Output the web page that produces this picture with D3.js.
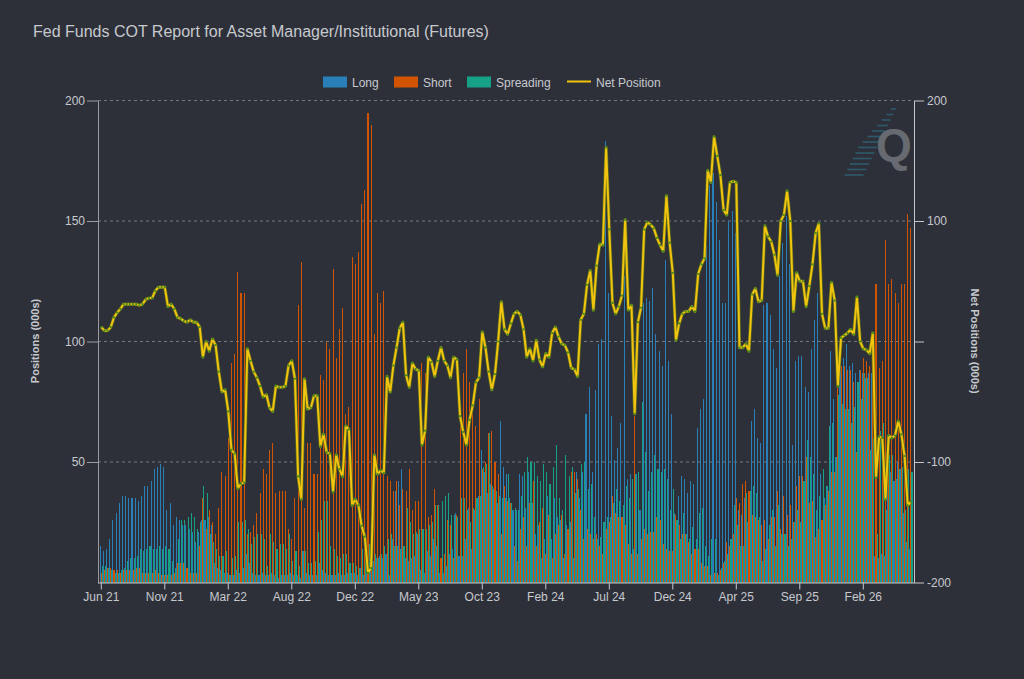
<!DOCTYPE html>
<html>
<head>
<meta charset="utf-8">
<script src="https://cdn.jsdelivr.net/npm/d3@7"></script>
<style>
body { margin: 0; background: #2e3039; }
svg { display: block; }
text { font-family: "Liberation Sans", Arial, sans-serif; }
</style>
</head>
<body>
<svg id="chart" width="1024" height="679"></svg>
<script>
// x axis labels, one every 20 weekly reports
var tickLabels = ["Jun 21", "Nov 21", "Mar 22", "Aug 22", "Dec 22", "May 23", "Oct 23",
	"Feb 24", "Jul 24", "Dec 24", "Apr 25", "Sep 25", "Feb 26"];

var seriesNames = ["Long", "Short", "Spreading"];

// weekly positions, 000s of contracts
var longPos = [
	15,13,14,18,26,29,33,36,36,35,35,35,34,36,40,40,42,47,48,49,
	48,30,33,24,27,26,24,24,22,21,17,21,26,26,27,24,8,6,5,4,4,3,3,
	5,4,6,12,8,4,3,3,4,3,3,4,3,2,3,3,3,4,3,3,2,13,4,3,3,3,8,5,4,3,3,3,4,3,3,4,4,4,3,6,3,
	4,6,9,10,11,10,12,3,18,38,42,47,10,9,10,11,20,5,4,13,11,18,15,4,4,7,12,14,29,11,11,18,31,14,30,36,55,46,37,41,39,33,67,48,
	45,35,30,30,45,44,31,46,33,20,24,10,18,36,18,35,27,26,10,24,25,10,46,35,46,70,81,46,80,99,101,183,120,69,51,56,66,127,43,45,14,45,30,
	116,118,117,122,103,96,90,134,92,70,29,36,44,43,37,42,41,64,72,76,140,165,170,158,142,116,116,150,154,145,30,28,35,25,67,72,60,58,115,116,111,97,
	89,127,141,152,132,57,92,94,94,81,79,97,109,120,45,35,40,96,76,52,93,93,99,90,91,87,88,87,85,87,87,11,10,12,11,46,46,42,50,47,29,17,14
];

var shortPos = [
	4,5,6,6,5,5,4,5,5,5,5,6,6,4,4,4,4,5,4,3,3,3,3,4,8,8,8,6,4,4,4,
	15,35,22,30,25,20,31,46,44,60,91,95,
	129,120,120,20,21,24,29,37,47,45,55,58,37,38,38,38,22,18,35,115,133,31,58,58,45,45,86,84,100,97,130,93,105,114,70,73,135,132,137,157,163,195,190,
	103,120,116,121,44,42,38,42,32,39,38,47,30,34,34,91,87,27,28,39,32,10,12,26,24,10,28,69,87,97,83,72,65,76,47,50,62,63,50,45,20,40,
	34,33,15,9,22,27,15,33,42,15,25,31,12,28,10,20,24,28,12,22,46,46,43,30,18,22,20,18,20,15,12,22,25,36,29,27,27,24,16,12,69,12,18,
	22,20,21,21,27,26,16,14,13,13,28,24,20,20,17,12,14,14,8,7,7,3,4,4,5,8,17,15,20,35,33,41,42,38,28,27,26,24,26,18,27,27,
	38,22,36,28,32,25,40,44,44,52,33,34,19,22,26,32,38,46,46,89,90,90,88,88,83,54,88,93,92,90,88,124,89,92,142,124,126,120,116,124,124,153,147
];

var spreadPos = [
	7,7,6,5,4,4,5,6,9,10,10,11,14,13,14,15,14,14,15,14,15,14,9,6,18,26,26,27,29,27,22,25,40,37,20,17,14,11,11,13,3,10,11,
	25,25,26,22,16,19,20,20,18,7,20,17,14,16,16,14,20,9,13,7,13,13,8,8,9,21,26,34,34,15,14,11,10,12,12,8,8,7,6,14,16,16,15,
	12,10,12,15,18,20,15,15,14,15,31,25,20,21,22,22,22,24,25,32,32,34,36,37,28,28,27,35,35,30,25,31,35,36,48,49,62,40,38,36,35,35,
	45,33,31,30,36,46,52,50,50,44,42,49,46,41,48,57,35,30,53,44,48,37,39,49,50,39,41,27,18,19,25,27,27,33,39,34,32,40,35,43,45,46,75,
	54,38,46,53,47,46,47,43,30,39,26,18,29,20,18,23,18,29,31,15,11,18,18,3,6,9,12,18,32,24,15,15,37,38,40,37,27,9,14,24,30,15,
	32,20,20,15,18,25,30,25,42,59,52,45,30,36,47,40,65,66,52,78,74,72,72,66,73,83,76,87,85,55,60,20,63,66,30,53,53,43,47,48,30,47,46
];

// net position (right axis)
var netPos = [
	12,9,9,12,20,24,27,31,31,31,31,31,30,31,35,36,36,42,45,45,
	45,29,31,27,20,19,17,16,18,16,16,12,-13,0,-8,2,-3,-25,-42,-40,-58,-90,-93,
	-122,-118,-117,-6,-16,-25,-30,-37,-46,-44,-55,-58,-37,-38,-38,-37,-20,-16,-31,-112,-131,-31,-56,-55,-45,-45,-87,-77,-92,-93,-125,-94,-106,-112,-70,-73,-136,-131,-136,-153,-162,-192,-188,
	-94,-110,-107,-109,-29,-42,-20,-5,11,16,-28,-38,-18,-23,-24,-86,-74,-13,-17,-29,-16,-5,-16,-20,-30,-13,-15,-62,-75,-86,-65,-53,-34,-30,8,-5,-25,-40,-27,0,33,10,
	6,15,23,25,22,10,-13,-6,-16,1,-15,-21,-10,-13,7,12,4,-2,-3,-9,-22,-23,-29,18,23,47,59,26,63,81,80,161,93,32,23,29,38,101,26,30,-60,16,28,
	93,99,97,94,86,80,75,121,82,57,1,15,23,25,25,29,25,56,64,69,142,132,170,154,138,109,105,132,133,132,-5,-5,-2,-8,39,44,33,34,96,87,83,72,
	55,100,105,125,100,25,57,50,50,29,46,64,90,98,23,11,11,49,34,-37,3,5,7,10,6,37,0,-6,-7,-10,7,-113,-79,-80,-131,-78,-80,-78,-66,-77,-95,-136,-133
];

var colors = { Long: "#2980b9", Short: "#d35400", Spreading: "#16a085", Net: "#f1c40f" };
var textColor = "#c6c9ce";

var svg = d3.select("#chart");
var plot = { left: 98, right: 914, top: 100.5, bottom: 582.5 };
var n = netPos.length;

var x = d3.scaleBand()
	.domain(d3.range(n))
	.range([99.7, 99.7 + n * 3.175]);
var xSub = d3.scaleBand()
	.domain(seriesNames)
	.range([0, x.bandwidth()]);

var yLeft = d3.scaleLinear().domain([0, 200]).range([plot.bottom, plot.top]);
var yRight = d3.scaleLinear().domain([-200, 200]).range([plot.bottom, plot.top]);

// title
svg.append("text")
	.attr("x", 33).attr("y", 37)
	.attr("fill", textColor)
	.style("font-size", "16px")
	.text("Fed Funds COT Report for Asset Manager/Institutional (Futures)");

// dashed grid
svg.append("g").selectAll("line")
	.data([50, 100, 150, 200])
	.enter().append("line")
	.attr("x1", plot.left).attr("x2", plot.right)
	.attr("y1", function(d) { return yLeft(d); })
	.attr("y2", function(d) { return yLeft(d); })
	.attr("stroke", "#74767c")
	.attr("stroke-dasharray", "3,3");

// watermark: streak of dashes + a big Q
var wm = svg.append("g");
for (var k = 0; k < 13; k++) {
	var xr = 896 - k * 2.7;
	var len = 5 + Math.min(k, 7) * 2;
	wm.append("line")
		.attr("x1", xr - len).attr("x2", xr)
		.attr("y1", 109 + k * 5.5).attr("y2", 109 + k * 5.5)
		.attr("stroke", "#2d5a6b").attr("stroke-width", 1.6);
}
wm.append("text")
	.attr("x", 876).attr("y", 161)
	.attr("fill", "#676a71")
	.style("font-size", "46px").style("font-weight", "bold")
	.text("Q");

// grouped bars
var rows = d3.range(n).map(function(i) {
	return { i: i, Long: longPos[i], Short: shortPos[i], Spreading: spreadPos[i] };
});

var groups = svg.append("g").attr("shape-rendering", "crispEdges")
	.selectAll("g")
	.data(rows)
	.enter().append("g")
	.attr("transform", function(d) { return "translate(" + x(d.i) + ",0)"; });

groups.selectAll("rect")
	.data(function(d) { return seriesNames.map(function(s) { return { key: s, value: d[s] }; }); })
	.enter().append("rect")
	.attr("x", function(d) { return xSub(d.key); })
	.attr("width", Math.max(1, xSub.bandwidth()))
	.attr("y", function(d) { return yLeft(d.value); })
	.attr("height", function(d) { return plot.bottom - yLeft(d.value); })
	.attr("fill", function(d) { return colors[d.key]; });

// net position line
var cx = function(d, i) { return x(i) + x.bandwidth() / 2; };
var line = d3.line()
	.x(cx)
	.y(function(d) { return yRight(d); });

svg.append("path")
	.datum(netPos)
	.attr("fill", "none")
	.attr("stroke", "#5d6b1c")
	.attr("stroke-width", 3.4)
	.attr("stroke-linejoin", "round")
	.attr("d", line);
svg.append("path")
	.datum(netPos)
	.attr("fill", "none")
	.attr("stroke", colors.Net)
	.attr("stroke-width", 2)
	.attr("stroke-linejoin", "round")
	.attr("d", line);
svg.append("g").selectAll("circle")
	.data(netPos)
	.enter().append("circle")
	.attr("cx", cx)
	.attr("cy", function(d) { return yRight(d); })
	.attr("r", 1.1)
	.attr("fill", "#3f8a1e");

// axes
function styleAxis(g, lineColor) {
	g.select(".domain").attr("stroke", lineColor);
	g.selectAll(".tick line").attr("stroke", lineColor);
	g.selectAll(".tick text").attr("fill", textColor).style("font-size", "12px")
		.style("font-family", "'Liberation Sans', Arial, sans-serif");
}

var leftAxis = svg.append("g")
	.attr("transform", "translate(" + plot.left + ",0)")
	.call(d3.axisLeft(yLeft).tickValues([50, 100, 150, 200]).tickSize(11).tickPadding(2).tickSizeOuter(0));
styleAxis(leftAxis, "#9a9ca0");

var rightAxis = svg.append("g")
	.attr("transform", "translate(" + plot.right + ",0)")
	.call(d3.axisRight(yRight).tickValues([-200, -100, 0, 100, 200]).tickSize(10).tickPadding(3).tickSizeOuter(0)
		.tickFormat(function(d) { return d === 0 ? "" : d; }));
styleAxis(rightAxis, "#c4c6ca");

var bottomAxis = svg.append("g")
	.attr("transform", "translate(0," + plot.bottom + ")")
	.call(d3.axisBottom(x).tickValues(d3.range(0, n, 20)).tickSize(7).tickPadding(3).tickSizeOuter(0)
		.tickFormat(function(d) { return tickLabels[d / 20]; }));
bottomAxis.select(".domain").attr("d", "M" + plot.left + ",0.5H" + plot.right);
styleAxis(bottomAxis, "#c4c6ca");

// axis titles
svg.append("text")
	.attr("transform", "translate(39,341) rotate(-90)")
	.attr("text-anchor", "middle")
	.attr("fill", textColor)
	.style("font-size", "11px").style("font-weight", "bold")
	.text("Positions (000s)");
svg.append("text")
	.attr("transform", "translate(971,341) rotate(90)")
	.attr("text-anchor", "middle")
	.attr("fill", textColor)
	.style("font-size", "11px").style("font-weight", "bold")
	.text("Net Positions (000s)");

// legend
var legendItems = [
	{ name: "Long", x: 323, type: "rect" },
	{ name: "Short", x: 394, type: "rect" },
	{ name: "Spreading", x: 467, type: "rect" },
	{ name: "Net Position", x: 567, type: "line" }
];
var legend = svg.append("g");
legendItems.forEach(function(it) {
	if (it.type === "rect") {
		legend.append("rect")
			.attr("x", it.x).attr("y", 76.5)
			.attr("width", 24).attr("height", 11)
			.attr("fill", colors[it.name]);
	} else {
		legend.append("line")
			.attr("x1", it.x).attr("x2", it.x + 24)
			.attr("y1", 81.5).attr("y2", 81.5)
			.attr("stroke", colors.Net).attr("stroke-width", 2);
	}
	legend.append("text")
		.attr("x", it.x + 29).attr("y", 86.5)
		.attr("fill", textColor)
		.style("font-size", "12px")
		.text(it.name);
});
</script>
</body>
</html>
